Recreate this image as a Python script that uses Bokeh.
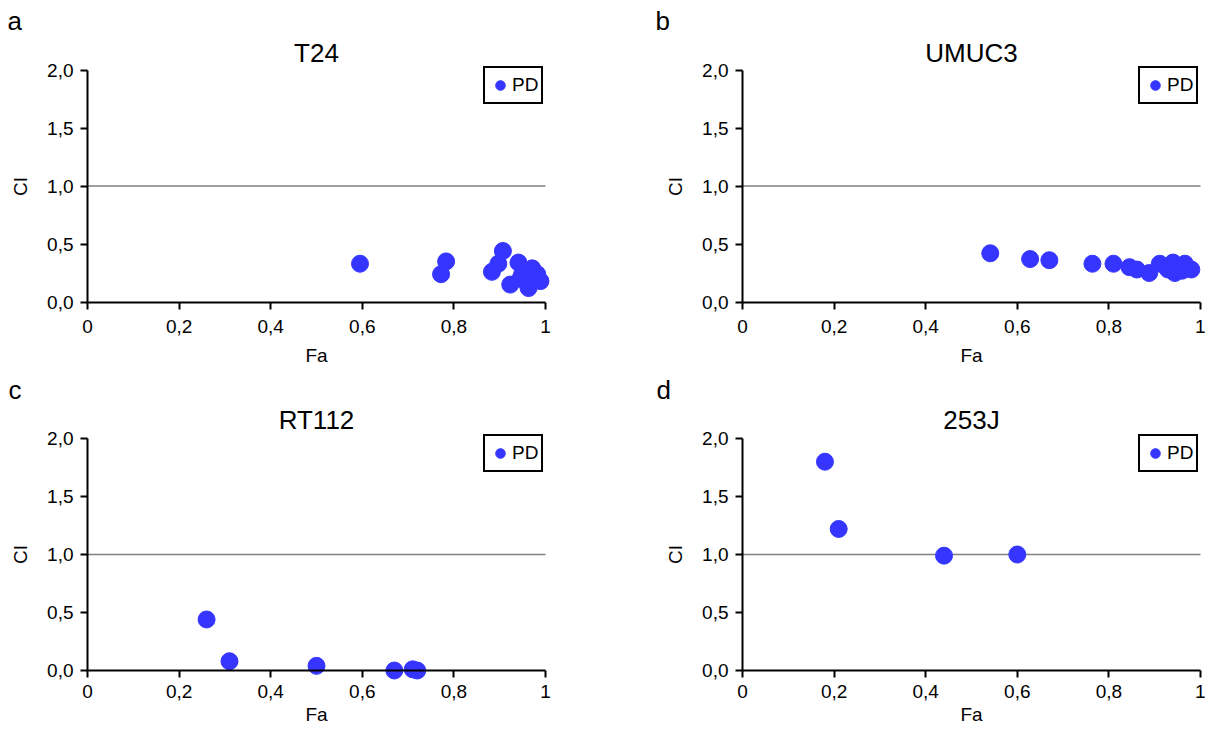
from bokeh.plotting import figure
from bokeh.layouts import column, row
from bokeh.models import Label, FixedTicker, Legend, LegendItem, Range1d
from bokeh.embed import file_html
from bokeh.resources import INLINE

# ---------------- data ----------------
panel_letters = ["a", "b", "c", "d"]
cell_lines = ["T24", "UMUC3", "RT112", "253J"]
series_name = "PD"
x_title = "Fa"
y_title = "CI"

t24_fa = [0.595, 0.772, 0.783, 0.883, 0.897, 0.907, 0.923, 0.941, 0.945, 0.949, 0.963, 0.967, 0.971, 0.982, 0.989]
t24_ci = [0.33, 0.24, 0.35, 0.26, 0.33, 0.44, 0.15, 0.34, 0.20, 0.24, 0.12, 0.19, 0.29, 0.24, 0.18]

umuc3_fa = [0.541, 0.628, 0.670, 0.764, 0.810, 0.845, 0.861, 0.888, 0.911, 0.929, 0.940, 0.944, 0.960, 0.966, 0.980]
umuc3_ci = [0.42, 0.37, 0.36, 0.33, 0.33, 0.30, 0.28, 0.25, 0.33, 0.28, 0.34, 0.25, 0.27, 0.33, 0.28]

rt112_fa = [0.26, 0.31, 0.50, 0.67, 0.71, 0.72]
rt112_ci = [0.44, 0.08, 0.04, 0.00, 0.01, 0.00]

j253_fa = [0.18, 0.21, 0.44, 0.60]
j253_ci = [1.80, 1.22, 0.99, 1.00]

ref_line_fa = [0.0, 1.0]
ref_line_ci = [1.0, 1.0]

x_ticks = [0.0, 0.2, 0.4, 0.6, 0.8, 1.0]
x_tick_labels = ["0", "0,2", "0,4", "0,6", "0,8", "1"]
y_ticks = [0.0, 0.5, 1.0, 1.5, 2.0]
y_tick_labels = ["0,0", "0,5", "1,0", "1,5", "2,0"]

# ---------------- style ----------------
FONT = "Liberation Sans"
DOT = "#3535ff"
PX_X = 458.0   # pixels per Fa unit
PX_Y = 116.0   # pixels per CI unit


def make_panel(letter, title, fa, ci, width, height, ox, oy, letter_x, title_gap,
               xlabel_standoff, xtitle_standoff):
    """ox, oy: pixel position (inside this figure) of the Fa=0 / CI=0 origin."""
    def dx(px):
        return (px - ox) / PX_X

    def dy(py):
        return (oy - py) / PX_Y

    xr = Range1d(dx(0), dx(width))
    yr = Range1d(dy(height), dy(0))
    p = figure(width=width, height=height, x_range=xr, y_range=yr,
               output_backend="svg", toolbar_location=None,
               min_border_left=0, min_border_right=0,
               min_border_top=0, min_border_bottom=0)
    p.outline_line_color = None
    p.grid.visible = False
    p.background_fill_color = "white"
    p.border_fill_color = "white"

    for ax, ticks, labels in ((p.xaxis[0], x_ticks, x_tick_labels), (p.yaxis[0], y_ticks, y_tick_labels)):
        ax.ticker = FixedTicker(ticks=ticks)
        ax.major_label_overrides = {t: l for t, l in zip(ticks, labels)}
        ax.fixed_location = 0
        ax.axis_line_width = 2
        ax.axis_line_color = "black"
        ax.major_tick_line_width = 2
        ax.major_tick_line_color = "black"
        ax.major_tick_out = 7
        ax.major_tick_in = 0
        ax.minor_tick_line_color = None
        ax.major_label_text_font = FONT
        ax.major_label_text_font_size = "19px"
        ax.major_label_text_color = "black"
        ax.axis_label_text_font = FONT
        ax.axis_label_text_font_size = "19px"
        ax.axis_label_text_font_style = "normal"
        ax.axis_label_text_color = "black"
    p.xaxis[0].major_label_standoff = xlabel_standoff
    p.yaxis[0].major_label_standoff = 7
    p.xaxis[0].bounds = (0, 1)
    p.yaxis[0].bounds = (0, 2)
    p.xaxis[0].axis_label = x_title
    p.yaxis[0].axis_label = y_title
    p.xaxis[0].axis_label_standoff = xtitle_standoff
    p.yaxis[0].axis_label_standoff = 13

    p.line(ref_line_fa, ref_line_ci, line_color="#808080", line_width=1.5)
    r = p.scatter(fa, ci, size=17, fill_color=DOT, line_color=DOT, marker="circle")

    top_px = oy - 2 * PX_Y          # pixel row of CI = 2
    legend_bottom = top_px + 34
    legend = Legend(items=[LegendItem(label=series_name, renderers=[r])],
                    location=(ox + 396, height - legend_bottom),
                    border_line_color="black", border_line_width=2, border_line_alpha=1,
                    background_fill_color="white", background_fill_alpha=1,
                    padding=3, margin=0, glyph_width=24, glyph_height=28,
                    label_standoff=0, label_text_font=FONT,
                    label_text_font_size="19px", label_text_color="black", spacing=0)
    p.add_layout(legend)

    # chart title, centred over the Fa axis
    p.add_layout(Label(x=0.5, y=dy(top_px - title_gap - 10), text=title,
                       text_font=FONT, text_font_size="26px", text_color="black",
                       text_baseline="alphabetic", text_align="center"))
    # panel letter
    p.add_layout(Label(x=dx(letter_x), y=dy(top_px - 49), text=letter,
                       text_font=FONT, text_font_size="26px", text_color="black",
                       text_baseline="alphabetic", text_align="left"))
    return p


pa = make_panel(panel_letters[0], cell_lines[0], t24_fa, t24_ci, 600, 365, 87, 301.5, 7, 7.5, 11, 8)
pb = make_panel(panel_letters[1], cell_lines[1], umuc3_fa, umuc3_ci, 605, 365, 142, 301.5, 55, 7.5, 11, 8)
pc = make_panel(panel_letters[2], cell_lines[2], rt112_fa, rt112_ci, 600, 366, 87, 305, 8, 9, 7, 3)
pd_ = make_panel(panel_letters[3], cell_lines[3], j253_fa, j253_ci, 605, 366, 142, 305, 56, 9, 7, 3)

layout = column(row(pa, pb), row(pc, pd_))
open("out.html", "w").write(file_html(layout, INLINE))
